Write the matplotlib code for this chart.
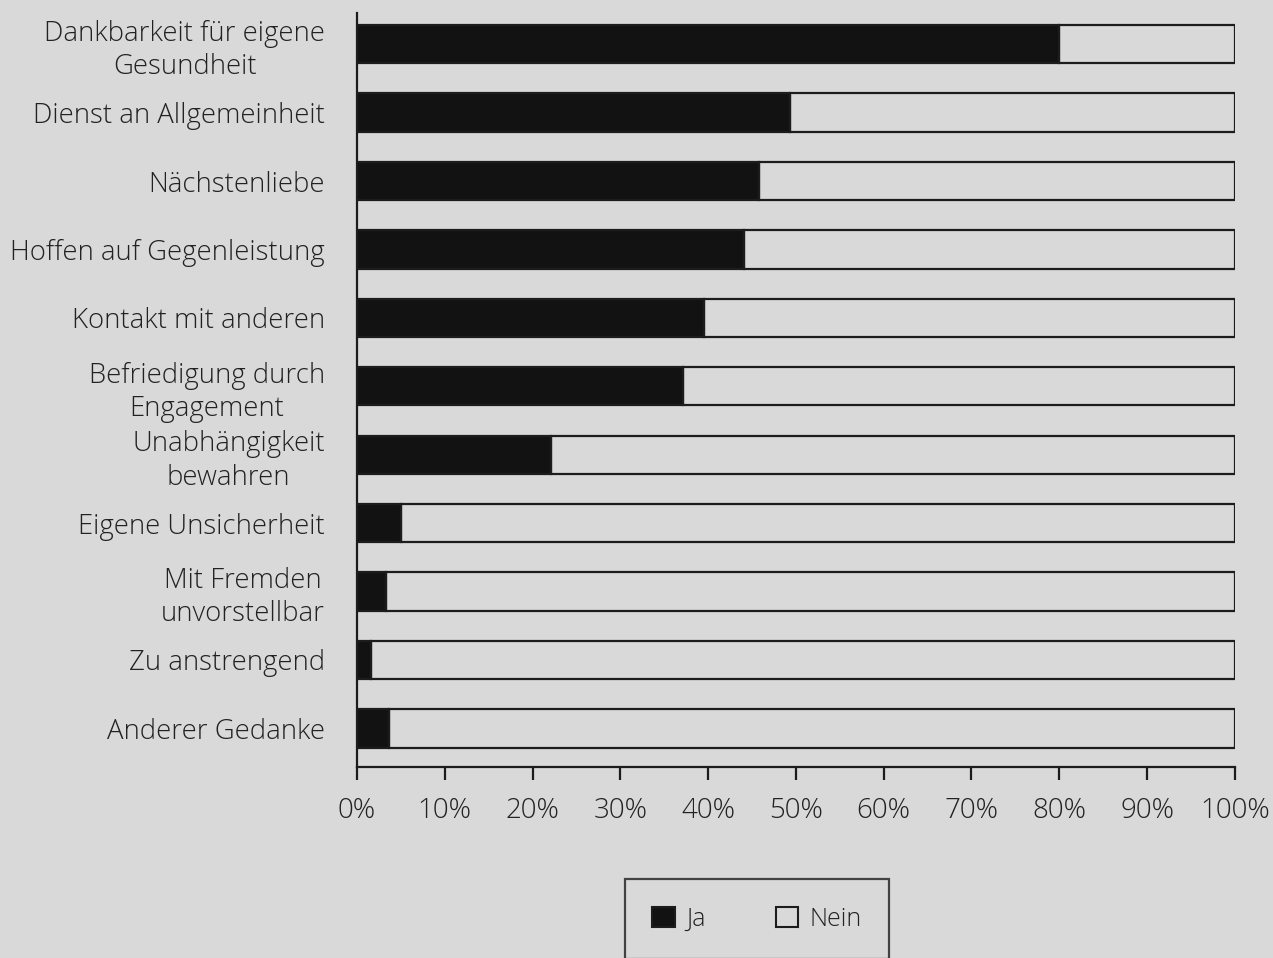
import matplotlib.pyplot as plt
from matplotlib.patches import Patch

labels = [
    "Dankbarkeit für eigene\nGesundheit",
    "Dienst an Allgemeinheit",
    "Nächstenliebe",
    "Hoffen auf Gegenleistung",
    "Kontakt mit anderen",
    "Befriedigung durch\nEngagement",
    "Unabhängigkeit\nbewahren",
    "Eigene Unsicherheit",
    "Mit Fremden\nunvorstellbar",
    "Zu anstrengend",
    "Anderer Gedanke",
]
ja = [80, 49.3, 45.8, 44.1, 39.5, 37.1, 22.1, 5.0, 3.3, 1.6, 3.6]
nein = [100 - v for v in ja]
ticks = [0, 10, 20, 30, 40, 50, 60, 70, 80, 90, 100]

bg = "#d9d9d9"
ink = "#1c1c1c"
txt = "#222222"
plt.rcParams["font.family"] = ["Open Sans", "DejaVu Sans"]

fig = plt.figure(figsize=(12.73, 9.58), dpi=100, facecolor=bg)
ax = fig.add_axes([0.2804, 0.199, 0.6896, 0.787])
ax.set_facecolor(bg)

ypos = list(range(len(labels)))
ax.barh(ypos, ja, height=0.56, color="#121212", edgecolor=ink, linewidth=1.6)
ax.barh(ypos, nein, left=ja, height=0.56, color="none", edgecolor=ink, linewidth=1.6)

ax.set_xlim(0, 100)
ax.set_ylim(10.57, -0.45)

ax.set_yticks(ypos)
ax.set_yticklabels(labels, fontsize=19.8, color=txt, multialignment="center",
                   linespacing=1.26, weight="light")
ax.tick_params(axis="y", length=0, pad=23)

ax.set_xticks(ticks)
ax.set_xticklabels([f"{t}%" for t in ticks], fontsize=20, color=txt, weight="light")
ax.tick_params(axis="x", length=9, width=1.6, color=ink, pad=12)

for s in ["top", "right"]:
    ax.spines[s].set_visible(False)
for s in ["left", "bottom"]:
    ax.spines[s].set_linewidth(1.6)
    ax.spines[s].set_color(ink)

handles = [
    Patch(facecolor="#121212", edgecolor=ink, linewidth=1.5, label="Ja"),
    Patch(facecolor="none", edgecolor=ink, linewidth=1.5, label="Nein"),
]
leg = fig.legend(handles=handles, loc="upper center", bbox_to_anchor=(757 / 1273, 1 - 879 / 958),
                 ncol=2, prop={"size": 18, "weight": "light"}, frameon=True, fancybox=False,
                 edgecolor=ink, facecolor=bg, borderpad=1.1, columnspacing=2.8,
                 handlelength=0.9, handleheight=0.9, handletextpad=0.45, borderaxespad=0)
leg.get_frame().set_linewidth(1.6)
for t in leg.get_texts():
    t.set_color(txt)

fig.savefig("out.png", dpi=100, facecolor=bg)
